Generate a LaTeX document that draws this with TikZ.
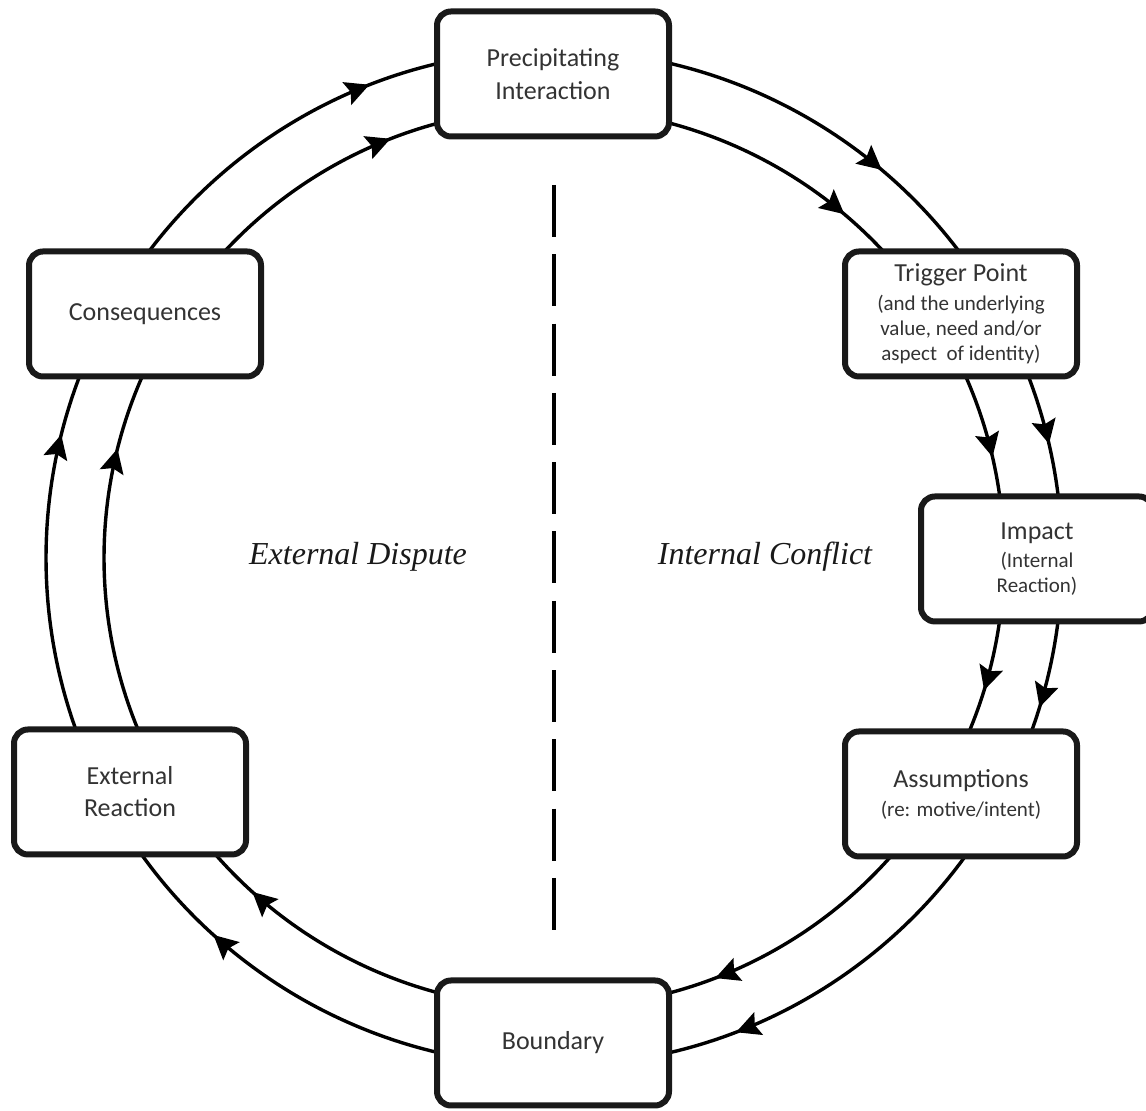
\documentclass[tikz,border=0pt]{standalone}
\usepackage{fontspec}
\setmainfont{Carlito}
\newfontfamily\sidefont{Liberation Serif}
\usetikzlibrary{arrows.meta,calc,decorations.markings}
\newcommand{\detail}{\fontsize{10.5}{12.5}\selectfont}

\begin{document}
\begin{tikzpicture}[
    x=0.5pt, y=0.5pt,
    stage/.style={draw=black!90, line width=3pt, rounded corners=7pt, fill=white, minimum width=116pt, minimum height=62.5pt, align=center, text=black!80, font=\fontsize{13}{12.5}\selectfont},
    ring/.style={line width=1.7pt},
    midarr/.style={postaction={decorate}, decoration={markings, mark=at position #1 with {\arrow{Stealth[length=12pt,width=12pt,inset=2pt]}}}},
    side/.style={font=\sidefont\itshape\fontsize{16}{19}\selectfont, text=black!90}
]
\useasboundingbox (0,0) rectangle (1146,1111);
\coordinate (c) at (554,553);

% the two rings, clockwise, one arrow per segment
\foreach \a/\b/\p in {90/30.9/0.68, 30.9/0/0.58, 0/-30/0.57, -30/-90/0.65, -90/-151/0.69, -151/-210.8/0.72, -210.8/-270/0.64}
  \foreach \r in {450,508}
    \draw[ring, midarr=\p] ($(c)+(\a:\r)$) arc[start angle=\a, end angle=\b, radius=\r];

% divider
\draw[line width=2pt, dash pattern=on 26pt off 8.65pt] (554,926) -- (554,181);

\node[side] (ext) at (358,554) {External Dispute};
\node[side] (int) at (765,554) {Internal Conflict};

% stages
\node[stage] (prec) at (553,1037) {Precipitating\\[4pt]Interaction};
\node[stage] (trig) at (961,797) {Trigger Point\\[2pt]{\detail (and the underlying}\\{\detail value, need and/or}\\{\detail aspect\ \ of identity)}};
\node[stage] (imp) at (1037,552) {Impact\\[1.5pt]{\detail (Internal}\\{\detail Reaction)}};
\node[stage] (assm) at (961,317) {Assumptions\\[2pt]{\detail (re: motive/intent)}};
\node[stage] (bound) at (553,68) {Boundary};
\node[stage] (extr) at (130,319) {External\\[3.5pt]Reaction};
\node[stage] (cons) at (145,797) {Consequences};
\end{tikzpicture}
\end{document}
